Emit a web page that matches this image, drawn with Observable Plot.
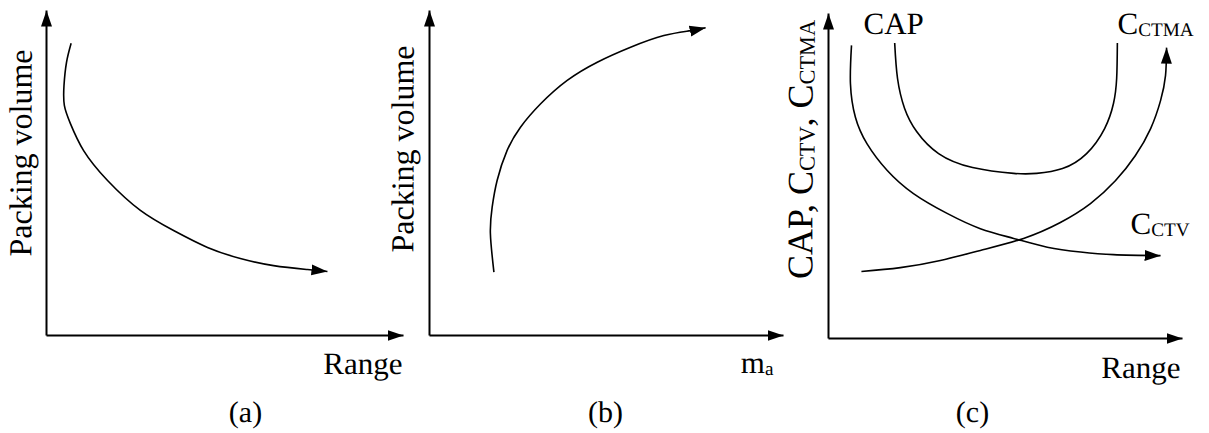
<!DOCTYPE html>
<html>
<head>
<meta charset="utf-8">
<script src="https://cdn.jsdelivr.net/npm/d3@7"></script>
<script src="https://cdn.jsdelivr.net/npm/@observablehq/plot@0.6"></script>
<style>
  html, body { margin: 0; padding: 0; background: #fff; }
  #chart { position: relative; width: 1209px; height: 433px; overflow: hidden; }
  #chart svg { position: absolute; top: 0; overflow: visible; max-width: none; }
  #chart text, #chart tspan { font-family: "Liberation Serif", "Times New Roman", Times, serif; text-rendering: geometricPrecision; }
</style>
</head>
<body>
<div id="chart"></div>
<script>
// ---- data (abstract units, 0..100 along each axis) ----
const AXIS_MAX = 100;

// Panel (a): packing volume vs range
const rangeA  = [6.9, 5.6, 4.9, 5.0, 6.7, 10.4, 17.1, 26.3, 35.6, 45.1, 54.3, 63.6, 73.1, 78.7];
const volumeA = [89.9, 84.0, 76.9, 70.8, 65.2, 56.9, 47.7, 38.5, 32.3, 27.1, 23.7, 21.5, 20.3, 19.7];

// Panel (b): packing volume vs m_a
const massB   = [18.2, 17.2, 17.7, 19.1, 21.9, 25.7, 31.4, 38.9, 47.4, 56.8, 66.2, 73.7, 78.0];
const volumeB = [19.5, 31.4, 39.5, 47.7, 56.9, 64.1, 71.3, 78.5, 84.1, 88.7, 92.3, 93.8, 94.7];

// Panel (c): CAP, C_CTV, C_CTMA vs range
const rangeCAP  = [18.7, 19.5, 21.5, 24.9, 31.1, 40.7, 52.3, 58.8, 66.1, 72.9, 78.0, 80.5, 81.4, 81.6];
const valueCAP  = [90.9, 80.0, 70.8, 63.7, 56.9, 52.6, 50.8, 50.8, 52.3, 56.9, 64.6, 72.3, 80.0, 90.9];
const rangeCTV  = [6.5, 6.2, 7.6, 10.9, 16.6, 24.0, 33.5, 42.9, 52.3, 61.8, 71.2, 80.5, 93.8];
const valueCTV  = [90.2, 78.4, 68.1, 59.9, 51.7, 44.6, 38.5, 33.8, 30.8, 28.1, 26.6, 25.8, 25.5];
const rangeCTMA = [9.3, 20.3, 31.6, 42.9, 55.1, 65.5, 74.0, 81.1, 86.7, 91.0, 93.8, 95.2, 95.5];
const valueCTMA = [20.6, 21.8, 24.0, 27.1, 30.8, 35.7, 41.5, 48.6, 56.3, 64.6, 73.2, 80.9, 89.5];

// Text
const captions    = ["(a)", "(b)", "(c)"];
const xLabels     = ["Range", "m_{a}", "Range"];
const yLabels     = ["Packing volume", "Packing volume", "CAP, C_{CTV}, C_{CTMA}"];
const curveLabels = ["CAP", "C_{CTV}", "C_{CTMA}"];

// ---- helpers ----
const zip = (xs, ys) => xs.map((x, i) => ({x, y: ys[i]}));
const axisX = [{x: 0, y: 0}, {x: AXIS_MAX, y: 0}];
const axisY = [{x: 0, y: 0}, {x: 0, y: AXIS_MAX}];
const FONT = "Liberation Serif";
const SVGNS = "http://www.w3.org/2000/svg";
const VERTICAL = -89.9;

function label(str, opts) {
  return Plot.text([str], {text: d => d, fill: "black", lineAnchor: "bottom", fontSize: 31, fontFamily: FONT, ...opts});
}

function fixMarkers(svg) {
  svg.querySelectorAll("marker").forEach(m => {
    m.setAttribute("viewBox", "-16 -8 16 16");
    m.setAttribute("markerUnits", "userSpaceOnUse");
    m.setAttribute("markerWidth", "16");
    m.setAttribute("markerHeight", "16");
    m.setAttribute("fill", "black");
    m.setAttribute("stroke", "none");
    while (m.firstChild) m.removeChild(m.firstChild);
    const p = document.createElementNS(SVGNS, "path");
    p.setAttribute("d", "M-16,-5.5L0,0L-16,5.5Z");
    p.setAttribute("fill", "black");
    p.setAttribute("stroke", "none");
    m.appendChild(p);
  });
}

function applySubscripts(svg) {
  svg.querySelectorAll("text").forEach(t => {
    const s = t.textContent;
    if (!s.includes("_{")) return;
    t.textContent = "";
    const parts = [];
    const re = /_\{([^}]*)\}/g;
    let last = 0, m;
    while ((m = re.exec(s))) {
      if (m.index > last) parts.push([s.slice(last, m.index), false]);
      parts.push([m[1], true]);
      last = re.lastIndex;
    }
    if (last < s.length) parts.push([s.slice(last), false]);
    let prevSub = false;
    parts.forEach(([str, sub]) => {
      const ts = document.createElementNS(SVGNS, "tspan");
      ts.textContent = str;
      if (sub) { ts.setAttribute("font-size", "0.62em"); ts.setAttribute("dy", "2"); }
      else if (prevSub) ts.setAttribute("dy", "-2");
      prevSub = sub;
      t.appendChild(ts);
    });
  });
}

function panel({left, width, mL, mR, mT, mB, curves, labels}) {
  const svg = Plot.plot({
    width, height: 433,
    marginLeft: mL, marginRight: mR, marginTop: mT, marginBottom: mB,
    x: {domain: [0, AXIS_MAX], axis: null},
    y: {domain: [0, AXIS_MAX], axis: null},
    style: {fontFamily: "'Liberation Serif', serif", background: "transparent", overflow: "visible", color: "black"},
    marks: [
      Plot.line(axisX, {x: "x", y: "y", stroke: "black", strokeWidth: 2, strokeLinecap: "butt", markerEnd: "arrow"}),
      Plot.line(axisY, {x: "x", y: "y", stroke: "black", strokeWidth: 2, strokeLinecap: "butt", markerEnd: "arrow"}),
      ...curves.map(([data, arrow]) =>
        Plot.line(data, {x: "x", y: "y", curve: "natural", stroke: "black", strokeWidth: 1.6,
                         strokeLinecap: "butt", markerEnd: arrow ? "arrow" : "none"})),
      ...labels
    ]
  });
  svg.style.left = left + "px";
  fixMarkers(svg);
  applySubscripts(svg);
  document.getElementById("chart").appendChild(svg);
}

// Panel (a)
panel({
  left: 0, width: 420, mL: 46, mR: 17, mT: 10, mB: 98,
  curves: [[zip(rangeA, volumeA), true]],
  labels: [
    label(yLabels[0], {frameAnchor: "left", rotate: VERTICAL, textAnchor: "middle", dx: -15, dy: -20, fontSize: 32}),
    label(xLabels[0], {frameAnchor: "bottom-right", textAnchor: "end", dx: -1, dy: 38}),
    label(captions[0], {frameAnchor: "bottom", textAnchor: "middle", dx: 20.5, dy: 86, fontSize: 30})
  ]
});

// Panel (b)
panel({
  left: 390, width: 410, mL: 39, mR: 17, mT: 10, mB: 98,
  curves: [[zip(massB, volumeB), true]],
  labels: [
    label(yLabels[1], {frameAnchor: "left", rotate: VERTICAL, textAnchor: "middle", dx: -16, dy: -24, fontSize: 32}),
    label(xLabels[1], {frameAnchor: "bottom-right", textAnchor: "end", dx: -10, dy: 37}),
    label(captions[1], {frameAnchor: "bottom", textAnchor: "middle", dx: -1, dy: 86, fontSize: 30})
  ]
});

// Panel (c)
panel({
  left: 780, width: 429, mL: 48, mR: 27, mT: 13, mB: 95,
  curves: [
    [zip(rangeCAP, valueCAP), false],
    [zip(rangeCTV, valueCTV), true],
    [zip(rangeCTMA, valueCTMA), true]
  ],
  labels: [
    label(yLabels[2], {frameAnchor: "left", rotate: VERTICAL, textAnchor: "middle", dx: -16, dy: -26.5, fontSize: 36}),
    label(curveLabels[0], {frameAnchor: "top-left", textAnchor: "start", dx: 35, dy: 20}),
    label(curveLabels[1], {frameAnchor: "top-left", textAnchor: "start", dx: 302, dy: 220}),
    label(curveLabels[2], {frameAnchor: "top-left", textAnchor: "start", dx: 289, dy: 20}),
    label(xLabels[2], {frameAnchor: "bottom-right", textAnchor: "end", dx: -2, dy: 39}),
    label(captions[2], {frameAnchor: "bottom", textAnchor: "middle", dx: -33, dy: 83, fontSize: 30})
  ]
});
</script>
</body>
</html>
